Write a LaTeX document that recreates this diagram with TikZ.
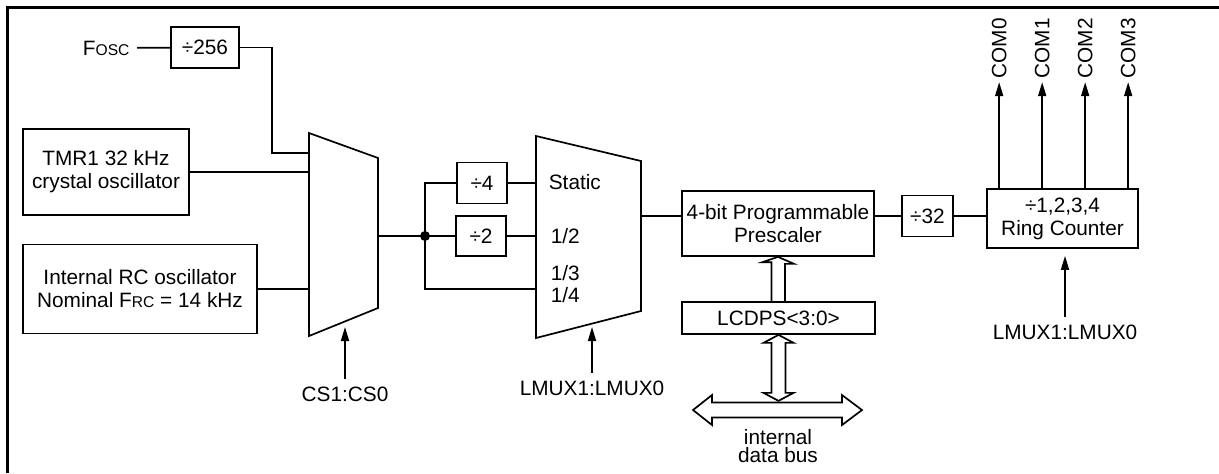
\documentclass[tikz,border=0pt]{standalone}
\usepackage{fontspec}
\setmainfont{Liberation Sans}
\usetikzlibrary{arrows.meta,calc}
\newcommand{\lowcap}[1]{{\fontsize{7.8}{9}\selectfont #1}}

\begin{document}
\begin{tikzpicture}[x=0.5pt, y=0.5pt, line width=0.85pt, >={Triangle[length=7pt,width=4pt]},
  every node/.style={font=\fontsize{10.4}{11.5}\selectfont},
  blk/.style={draw, align=center, inner sep=0pt},
  sel/.style={inner sep=2pt, outer sep=2pt},
  lbl/.style={anchor=west, inner sep=0pt}]

  \useasboundingbox (0,0) rectangle (1219,-473);

  % Frame (open to the right and below)
  \draw[line width=1.5pt] (1219,-7) -- (7,-7) -- (7,-473);

  % Clock sources
  \node[anchor=east] (fosc) at (137,-48) {F\lowcap{OSC}};
  \node[blk, minimum width=34pt, minimum height=20.5pt] (div256) at (205,-47.5) {÷256};
  \node[blk, minimum width=83pt, minimum height=43pt] (tmr) at (106,-172) {TMR1 32 kHz\\crystal oscillator};
  \node[blk, minimum width=117pt, minimum height=44.5pt] (rc) at (140,-289) {Internal RC oscillator\\Nominal F\lowcap{RC} = 14 kHz};

  % Clock source mux
  \coordinate (m1a) at (309,-133);
  \coordinate (m1b) at (378,-158);
  \coordinate (m1c) at (378,-308);
  \coordinate (m1d) at (309,-336);
  \coordinate (m1out) at (378,-236);
  \coordinate (m1sel) at (345,-327);
  \draw (m1a) -- (m1b) -- (m1c) -- (m1d) -- cycle;

  \draw (fosc) -- (div256);
  \draw (div256.east) -- ++(32,0) |- ($(m1a)+(0,-20)$);
  \draw (tmr.east) -- (tmr.east -| m1a);
  \draw (rc.east) -- (rc.east -| m1a);

  \node[sel] (cssel) at (345,-394) {CS1:CS0};
  \draw[->] (cssel) -- (m1sel);

  % Dividers in front of the multiplex mux
  \coordinate (split) at (425,-236);
  \node[blk, minimum width=25pt, minimum height=20.5pt] (div4) at (482,-183) {÷4};
  \node[blk, minimum width=25pt, minimum height=20pt] (div2) at (481,-236) {÷2};

  \coordinate (m2a) at (536,-136);
  \coordinate (m2b) at (641,-161);
  \coordinate (m2c) at (641,-311);
  \coordinate (m2d) at (536,-338);
  \coordinate (m2out) at (641,-216);
  \coordinate (m2in) at (536,-289);
  \coordinate (m2sel) at (592,-327);
  \draw (m2a) -- (m2b) -- (m2c) -- (m2d) -- cycle;

  \node[lbl] (lstat) at (548,-182) {Static};
  \node[lbl] (lhalf) at (550,-236) {1/2};
  \node[lbl] (lthird) at (550,-273) {1/3};
  \node[lbl] (lquart) at (550,-295) {1/4};

  \draw (m1out) -- (split) -- (div2.west);
  \draw (div4.west) -| (split) |- (m2in);
  \draw (div4.east) -- (div4.east -| m2a);
  \draw (div2.east) -- (div2.east -| m2a);
  \fill (split) circle[radius=2.5pt];

  \node[sel] (lmuxa) at (592,-388) {LMUX1:LMUX0};
  \draw[->] (lmuxa) -- (m2sel);

  % Prescaler and ring counter
  \node[blk, minimum width=96pt, minimum height=32.5pt] (pre) at (778,-223.5) {4-bit Programmable\\Prescaler};
  \node[blk, minimum width=96.5pt, minimum height=16pt] (lcdps) at (778.5,-318) {LCDPS<3:0>};
  \node[blk, minimum width=25.5pt, minimum height=20.5pt] (div32) at (927.5,-216) {÷32};
  \node[blk, minimum width=75.5pt, minimum height=29.5pt] (ring) at (1062.5,-218.5) {÷1,2,3,4\\Ring Counter};

  \draw (m2out) -- (m2out -| pre.west);
  \draw (pre.east |- div32) -- (div32.west);
  \draw (div32.east) -- (div32.east -| ring.west);

  \foreach \i in {0,...,3} {
    \coordinate (comb\i) at ($(ring.north west)+(13+43*\i,0)$);
    \draw[->] (comb\i) -- ++(0,106) node[anchor=west, rotate=90, inner sep=1.5pt] (com\i) {COM\i};
  }

  \node[sel] (lmuxb) at (1065,-332) {LMUX1:LMUX0};
  \draw[->, shorten >=3.5pt] (lmuxb) -- (lmuxb |- ring.south);

  % Buses
  \draw (lcdps.north) ++(-7,0) -- ++(0,39) -- ++(-9,0) -- (pre.south)
    -- ++(16,-7) -- ++(-9,0) -- ++(0,-39);
  \draw (lcdps.south) -- ++(-15,-8) -- ++(8,0) -- ++(0,-50) -- ++(-8,0) -- ++(15,-8)
    -- ++(15,8) -- ++(-8,0) -- ++(0,50) -- ++(8,0) -- cycle;

  \coordinate (busl) at (693,-410);
  \coordinate (busr) at (862,-410);
  \draw (busl) -- ++(19,15) -- ++(0,-7.5) -- ++(130,0) -- ++(0,7.5) -- (busr)
    -- ++(-20,-15) -- ++(0,7.5) -- ++(-130,0) -- ++(0,-7.5) -- cycle;
  \node[align=center, font=\fontsize{10.4}{9}\selectfont] (buslbl) at (778,-446) {internal\\data bus};

\end{tikzpicture}
\end{document}
